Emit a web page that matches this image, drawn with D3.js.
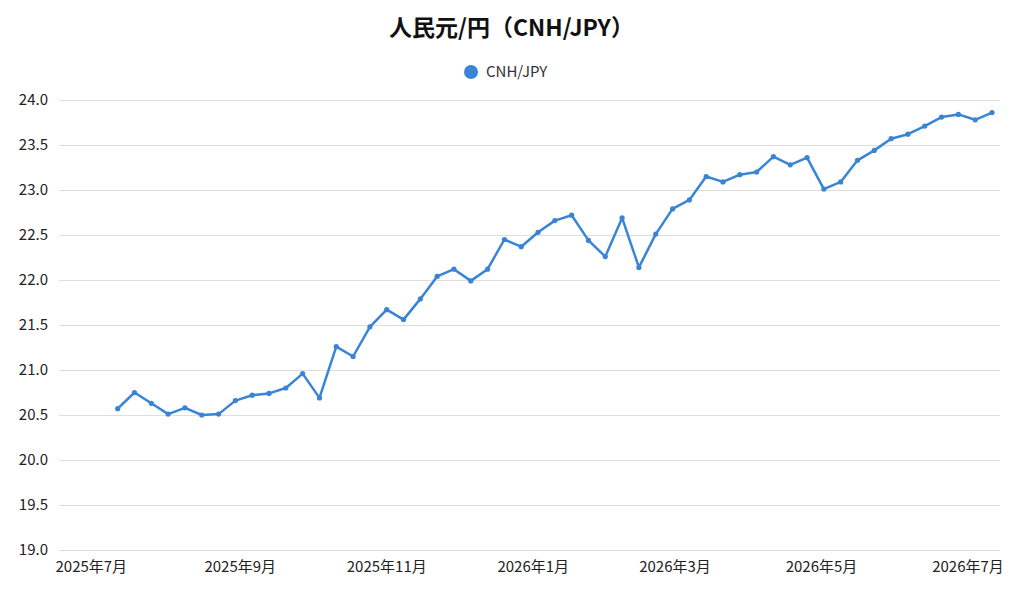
<!DOCTYPE html>
<html>
<head>
<meta charset="utf-8">
<script src="https://cdn.jsdelivr.net/npm/d3@7"></script>
<style>
  body { margin: 0; background: #fff; }
  svg { display: block; font-family: "Noto Sans CJK JP", "Noto Sans", sans-serif; }
</style>
</head>
<body>
<svg id="chart" width="1023" height="594"></svg>
<script>
const title = "人民元/円（CNH/JPY）";
const seriesName = "CNH/JPY";
const startDate = "2025-07-12";
const values = [
  20.57, 20.75, 20.63, 20.51, 20.58, 20.50, 20.51, 20.66, 20.72, 20.74,
  20.80, 20.96, 20.69, 21.26, 21.15, 21.48, 21.67, 21.56, 21.79, 22.04,
  22.12, 21.99, 22.12, 22.45, 22.37, 22.53, 22.66, 22.72, 22.44, 22.26,
  22.69, 22.14, 22.51, 22.79, 22.89, 23.15, 23.09, 23.17, 23.20, 23.37,
  23.28, 23.36, 23.01, 23.09, 23.33, 23.44, 23.57, 23.62, 23.71, 23.81,
  23.84, 23.78, 23.86
];
const yTicks = [19.0, 19.5, 20.0, 20.5, 21.0, 21.5, 22.0, 22.5, 23.0, 23.5, 24.0];
const xTickDates = ["2025-07-01", "2025-09-01", "2025-11-01", "2026-01-01", "2026-03-01", "2026-05-01", "2026-07-01"];
const xTickLabels = ["2025年7月", "2025年9月", "2025年11月", "2026年1月", "2026年3月", "2026年5月", "2026年7月"];

const color = "#3a84d6";
const DAY = 86400000;
const parse = s => new Date(s + "T00:00:00Z");
const t0 = parse(startDate).getTime() + 0.2 * DAY;
const data = values.map((v, i) => ({ date: new Date(t0 + i * 7 * DAY), value: v }));

const svg = d3.select("#chart");
const mLeft = 59, mRight = 1000, mTop = 100, mBottom = 550;

const x = d3.scaleUtc()
  .domain([new Date(parse("2025-07-01").getTime() - 13.24 * DAY), new Date(parse("2026-07-01").getTime() + 13.53 * DAY)])
  .range([mLeft, mRight]);
const y = d3.scaleLinear().domain([19, 24]).range([mBottom, mTop]);

// title
svg.append("text")
  .attr("x", 511.5).attr("y", 36)
  .attr("text-anchor", "middle")
  .attr("font-size", 23).attr("font-weight", "bold").attr("fill", "#111")
  .text(title);

// legend
const lg = svg.append("g").attr("transform", "translate(471,72)");
lg.append("circle").attr("r", 7).attr("fill", color);
lg.append("text").attr("x", 15).attr("y", 5).attr("font-size", 15).attr("fill", "#333").text(seriesName);

// grid
const yAxis = d3.axisLeft(y).tickValues(yTicks).tickSize(-(mRight - mLeft)).tickPadding(11).tickFormat(d3.format(".1f"));
const gy = svg.append("g").attr("transform", `translate(${mLeft},0)`).call(yAxis);
gy.select(".domain").remove();
gy.selectAll(".tick line").attr("stroke", "#dedede").attr("stroke-width", 1);
gy.selectAll(".tick text").attr("font-size", 15).attr("fill", "#222").attr("font-family", '"Noto Sans CJK JP", sans-serif');

// x axis
const xAxis = d3.axisBottom(x).tickValues(xTickDates.map(parse)).tickSize(0).tickPadding(11)
  .tickFormat((d, i) => xTickLabels[i]);
const gx = svg.append("g").attr("transform", `translate(0,${mBottom})`).call(xAxis);
gx.select(".domain").remove();
gx.selectAll(".tick text").attr("font-size", 15).attr("fill", "#222").attr("font-family", '"Noto Sans CJK JP", sans-serif');

// line
const line = d3.line().x(d => x(d.date)).y(d => y(d.value));
svg.append("path").datum(data)
  .attr("fill", "none").attr("stroke", color).attr("stroke-width", 2.5)
  .attr("stroke-linejoin", "round").attr("d", line);
svg.append("g").selectAll("circle").data(data).join("circle")
  .attr("cx", d => x(d.date)).attr("cy", d => y(d.value)).attr("r", 2.6).attr("fill", color);
</script>
</body>
</html>
